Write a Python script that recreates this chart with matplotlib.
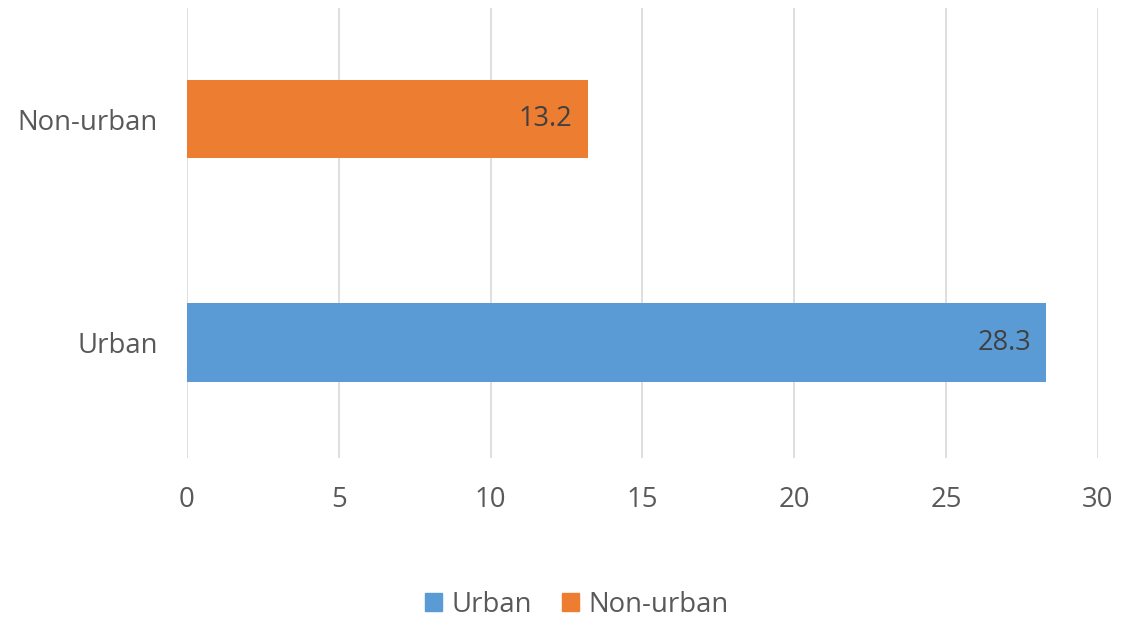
import matplotlib.pyplot as plt
from matplotlib.patches import Patch

# data
categories = ["Urban", "Non-urban"]
values = [28.3, 13.2]
bar_colors = ["#5B9BD5", "#ED7D31"]
x_ticks = [0, 5, 10, 15, 20, 25, 30]

plt.rcParams['font.family'] = ['Open Sans', 'DejaVu Sans']

fig = plt.figure(figsize=(11.4, 6.17), dpi=100)
ax = fig.add_axes([0.164, 0.258, 0.799, 0.729])

ypos = list(range(len(categories)))
ax.barh(ypos, values, height=0.35, color=bar_colors, zorder=3)

for y, v in zip(ypos, values):
    ax.annotate(f"{v}", (v, y), xytext=(-11, 0), textcoords="offset points",
                ha="right", va="center", fontsize=19.5, color="#404040", zorder=4)

ax.set_xlim(0, 30)
ax.set_ylim(-0.516, 1.497)
ax.set_xticks(x_ticks)
ax.set_yticks(ypos)
ax.set_yticklabels(categories)
ax.grid(axis="x", color="#D9D9D9", linewidth=1.2, zorder=0)
for s in ax.spines.values():
    s.set_visible(False)
ax.tick_params(axis="both", length=0, labelsize=19.8, labelcolor="#595959")
ax.tick_params(axis="x", pad=20)
ax.tick_params(axis="y", pad=21)

handles = [Patch(color=c, label=l) for c, l in zip(bar_colors, categories)]
fig.legend(handles=handles, loc="center", bbox_to_anchor=(0.506, 0.02),
           ncol=2, frameon=False, fontsize=19.8, labelcolor="#595959",
           handlelength=0.6, handleheight=0.6, handletextpad=0.35, columnspacing=1.1)

fig.savefig("out.png", dpi=100)
